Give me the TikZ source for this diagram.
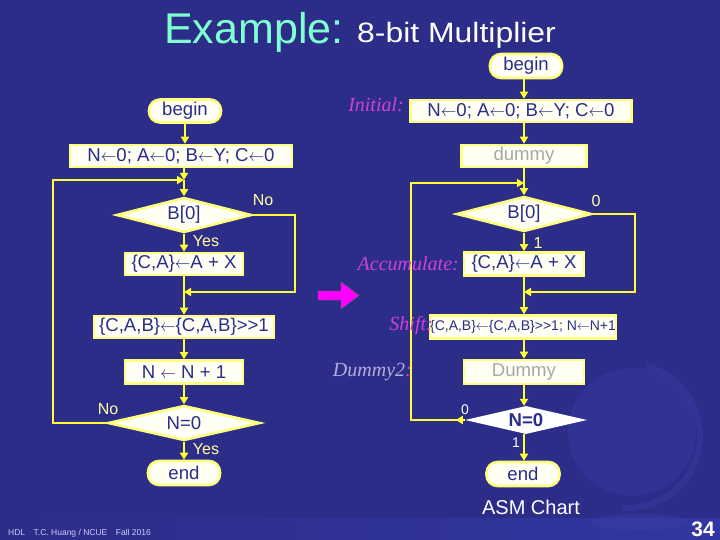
\documentclass[tikz,border=0pt]{standalone}
\usepackage{fontspec}
\setmainfont{Liberation Sans}
\newfontfamily\serifit{Liberation Serif}
\newfontfamily\widesans[FakeStretch=1.14]{Liberation Sans}
\usetikzlibrary{shapes.geometric,arrows.meta,decorations.markings,calc}
\newcommand\lar{\scalebox{0.9}[1]{$\leftarrow$}}
\definecolor{bgc}{HTML}{2C2D88}
\definecolor{bandc}{HTML}{3236A2}
\definecolor{boxline}{HTML}{FFFF80}
\definecolor{boxfill}{HTML}{FFFFF4}
\definecolor{navy}{HTML}{2B2D8C}
\definecolor{arrowc}{HTML}{FFFF33}
\definecolor{labc}{HTML}{FFFFA0}
\definecolor{tagc}{HTML}{D040D8}
\definecolor{lav}{HTML}{B4ACDC}
\definecolor{titc}{HTML}{80FFD0}
\definecolor{grayt}{HTML}{A8A8A8}
\definecolor{magc}{HTML}{FF00FF}
\definecolor{globec}{HTML}{3A3EA6}
\tikzset{
  box/.style={rectangle, draw=boxline, line width=2.6pt, fill=boxfill, text=navy,
    font=\fontsize{18.6}{20}\selectfont, inner sep=0pt},
  term/.style={box, rounded corners=11pt},
  dec/.style={diamond, draw=boxline, line width=2.6pt, fill=boxfill, text=navy,
    font=\fontsize{18.6}{20}\selectfont, inner sep=0pt, aspect=3.9},
  ln/.style={draw=arrowc, line width=2pt},
  arr/.style={ln, -{Triangle[length=7pt,width=8pt]}},
  lab/.style={text=labc, font=\fontsize{16}{18}\selectfont, inner sep=0pt},
  wlab/.style={text=white, font=\fontsize{14}{16}\selectfont, inner sep=0pt},
  tag/.style={text=tagc, font=\serifit\itshape\fontsize{20}{22}\selectfont, inner sep=0pt},
  midarr/.style={postaction={decorate, decoration={markings,
     mark=at position 9pt with {\arrow[arrowc]{Triangle[length=7pt,width=8pt]}}}}}
}
\begin{document}
\begin{tikzpicture}[x=1pt,y=-1pt]
\useasboundingbox (0,0) rectangle (720,540);
% background
\fill[bgc] (0,0) rectangle (720,540);
\shade[left color=bgc, right color=bandc] (0,518) rectangle (720,540);
% globe
\fill[globec, opacity=0.4] (632,432) circle (64);
\draw[globec, line width=6pt, opacity=0.45] (628,436) ++(-75:72) arc[start angle=-75, end angle=95, radius=72];
\fill[globec, opacity=0.45] (640,522) ellipse (48 and 8);
% title
\node[anchor=base west, inner sep=0pt, text=titc, font=\fontsize{43}{45}\selectfont] (tit1) at (164,44) {Example:};
\node[anchor=base west, inner sep=0pt, text=white, font=\widesans\fontsize{28}{30}\selectfont] (tit2) at (357,43) {8-bit Multiplier};

% ---------- left chart ----------
\node[term, minimum width=72pt, minimum height=23pt] (lb) at (185,111) {begin};
\node[box, minimum width=222pt, minimum height=22pt] (li) at (181,156) {N\lar0; A\lar0; B\lar Y; C\lar0};
\coordinate (lj) at (184,180);
\node[dec, minimum width=135pt, minimum height=35pt] (ld) at (184,215) {B[0]};
\node[box, minimum width=118pt, minimum height=22pt] (la) at (184,264) {\{C,A\}\lar A + X};
\coordinate (lj2) at (184,292);
\node[box, minimum width=180pt, minimum height=22pt] (ls) at (184,327) {\{C,A,B\}\lar\{C,A,B\}>{}>1};
\node[box, minimum width=118pt, minimum height=23pt] (ln) at (184,372) {N \lar\ N + 1};
\node[dec, minimum width=152pt, minimum height=35pt] (lz) at (184,423) {N=0};
\node[term, minimum width=72pt, minimum height=24pt] (le) at (184,473) {end};
\coordinate (lc1) at (295,215);
\coordinate (lc2) at (53,423);

\draw[arr] (lb) -- (lb.south |- li.north);
\draw[arr] (li.south -| lj) -- (lj);
\draw[arr] (lj) -- (ld.north);
\draw[arr] (ld.south) -- (la.north);
\draw[ln] (la.south) -- (lj2);
\draw[arr] (ld.east) -- (lc1) |- (lj2);
\draw[arr] (lj2) -- (ls.north);
\draw[arr] (ls.south) -- (ln.north);
\draw[arr] (ln.south) -- (lz.north);
\draw[arr] (lz.south) -- (le.north);
\draw[arr] (lz.west) -- (lc2) |- (lj);

\node[lab] (lno1) at (263,200) {No};
\node[lab] (lyes1) at (206,241) {Yes};
\node[lab] (lno2) at (108,409) {No};
\node[lab] (lyes2) at (206,449) {Yes};

% magenta arrow
\fill[magc, draw=black!60, line width=0.4pt] (318,291) -- (341,291) -- (341,282) -- (359,295.5) -- (341,309) -- (341,300) -- (318,300) -- cycle;

% ---------- right chart ----------
\node[term, minimum width=72pt, minimum height=24pt] (rb) at (526,66) {begin};
\node[box, minimum width=221pt, minimum height=22pt] (ri) at (521,111) {N\lar0; A\lar0; B\lar Y; C\lar0};
\node[box, minimum width=125pt, minimum height=22pt, text=grayt] (rd) at (524,156) {dummy};
\coordinate (rj) at (524,183);
\node[dec, minimum width=135pt, minimum height=35pt] (rdd) at (524,214) {B[0]};
\node[box, minimum width=120pt, minimum height=23pt] (ra) at (524,264) {\{C,A\}\lar A + X};
\coordinate (rj2) at (524,292);
\node[box, minimum width=183pt, minimum height=23pt, font=\fontsize{14}{16}\selectfont] (rs) at (523,327) {\{C,A,B\}\lar\{C,A,B\}>{}>1; N\lar N+1};
\node[box, minimum width=120pt, minimum height=24pt, text=grayt] (rd2) at (524,372) {Dummy};
\node[diamond, fill=white, inner sep=0pt, aspect=4.5, minimum width=122pt, minimum height=28pt, text=navy, font=\bfseries\fontsize{18.6}{20}\selectfont] (rz) at (526,420) {N=0};
\node[term, minimum width=73pt, minimum height=24pt] (re) at (523,474) {end};
\coordinate (rc1) at (635,214);
\coordinate (rc2) at (411,420);

\draw[arr] (rb.south -| rj) -- (ri.north -| rj);
\draw[arr] (ri.south -| rj) -- (rd.north -| rj);
\draw[ln] (rd.south -| rj) -- (rj);
\draw[arr] (rj) -- (rdd.north);
\draw[arr] (rdd.south) -- (ra.north);
\draw[ln] (ra.south) -- (rj2);
\draw[arr] (rdd.east) -- (rc1) |- (rj2);
\draw[arr] (rj2) -- (rs.north -| rj2);
\draw[arr] (rs.south -| rj) -- (rd2.north -| rj);
\draw[arr] (rd2.south -| rj) -- (rz.north -| rj);
\draw[arr] (rz.south -| rj) -- (re.north -| rj);
\draw[arr, midarr] (rz.west) -- (rc2) |- (rj);

\node[lab] (r0) at (596,201) {0};
\node[lab] (r1) at (538,243) {1};
\node[wlab] (r0b) at (465,410) {0};
\node[wlab] (r1b) at (516,443) {1};

\node[tag, anchor=east] (t1) at (404,105) {Initial:};
\node[tag, anchor=east] (t2) at (459,264) {Accumulate:};
\node[tag, anchor=east] (t3) at (433,326) {Shift:};
\node[tag, anchor=east, text=lav] (t4) at (412,372) {Dummy2\textcolor{tagc}{:}};

\node[text=white, inner sep=0pt, font=\fontsize{20}{22}\selectfont] (asm) at (531,507) {ASM Chart};
\node[anchor=base west, inner sep=0pt, text=white!80!blue, font=\fontsize{8.5}{9}\selectfont] (foot) at (8,535) {HDL\quad T.C. Huang / NCUE\quad Fall 2016};
\node[anchor=base east, inner sep=0pt, text=white, font=\bfseries\fontsize{21}{22}\selectfont] (pg) at (715,536) {34};
\end{tikzpicture}
\end{document}
